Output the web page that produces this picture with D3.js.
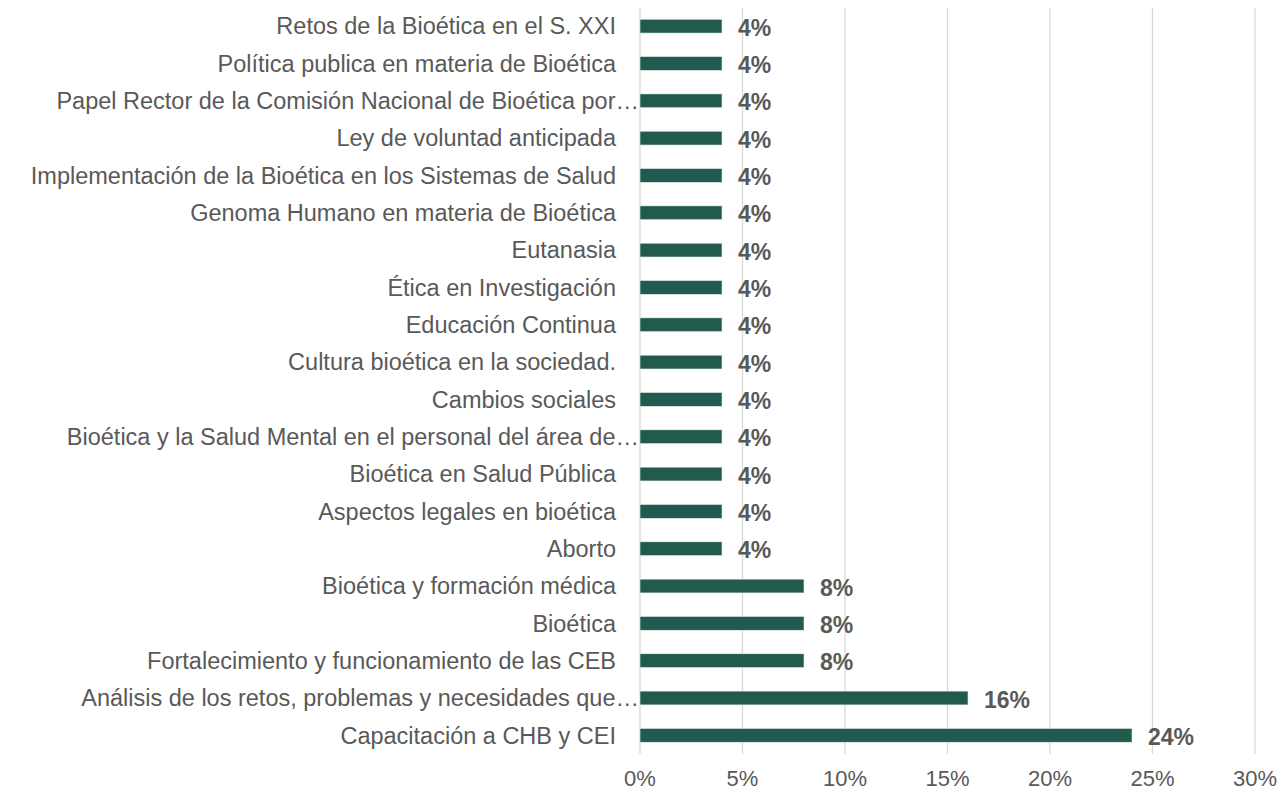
<!DOCTYPE html>
<html>
<head>
<meta charset="utf-8">
<script src="https://cdn.jsdelivr.net/npm/d3@7"></script>
<style>
  body { margin: 0; background: #fff; }
  text { font-family: "Liberation Sans", Arial, sans-serif; }
</style>
</head>
<body>
<div id="chart"></div>
<script>
// categories top to bottom, values in %
var categories = [
  "Retos de la Bioética en el S. XXI",
  "Política publica en materia de Bioética ",
  "Papel Rector de la Comisión Nacional de Bioética por…",
  "Ley de voluntad anticipada",
  "Implementación de la Bioética en los Sistemas de Salud",
  "Genoma Humano en materia de Bioética ",
  "Eutanasia",
  "Ética en Investigación",
  "Educación Continua",
  "Cultura bioética en la sociedad.",
  "Cambios sociales",
  "Bioética y la Salud Mental en el personal del área de…",
  "Bioética en Salud Pública",
  "Aspectos legales en bioética",
  "Aborto",
  "Bioética y formación médica",
  "Bioética ",
  "Fortalecimiento y funcionamiento de las CEB",
  "Análisis de los retos, problemas y necesidades que…",
  "Capacitación a CHB y CEI"
];
var values = [4, 4, 4, 4, 4, 4, 4, 4, 4, 4, 4, 4, 4, 4, 4, 8, 8, 8, 16, 24];
var xTicks = [0, 5, 10, 15, 20, 25, 30];

var width = 1287, height = 793;
var margin = {top: 7.5, right: 32, bottom: 39, left: 640};

var svg = d3.select("#chart").append("svg")
  .attr("width", width)
  .attr("height", height);

var x = d3.scaleLinear()
  .domain([0, 30])
  .range([margin.left, width - margin.right]);

var y = d3.scaleBand()
  .domain(categories)
  .range([margin.top, height - margin.bottom])
  .paddingInner(0.63)
  .paddingOuter(0.315);

//gridlines
svg.append("g")
  .selectAll("line")
  .data(xTicks)
  .enter()
  .append("line")
  .attr("x1", d => x(d))
  .attr("x2", d => x(d))
  .attr("y1", margin.top)
  .attr("y2", height - margin.bottom)
  .attr("stroke", "#d9d9d9")
  .attr("stroke-width", 1.3);

//tick labels
svg.append("g")
  .selectAll("text")
  .data(xTicks)
  .enter()
  .append("text")
  .attr("x", d => x(d))
  .attr("y", 786)
  .attr("text-anchor", "middle")
  .attr("fill", "#595959")
  .attr("font-size", "22px")
  .text(d => d + "%");

//bars
svg.append("g")
  .selectAll("rect")
  .data(values)
  .enter()
  .append("rect")
  .attr("x", x(0))
  .attr("y", (d, i) => y(categories[i]))
  .attr("width", d => x(d) - x(0))
  .attr("height", y.bandwidth())
  .attr("fill", "#225b4e")
  .attr("stroke", "#e6efec")
  .attr("stroke-width", 0.6);

//category labels
svg.append("g")
  .selectAll("text")
  .data(categories)
  .enter()
  .append("text")
  .attr("x", d => d.endsWith("…") ? x(0) - 1 : x(0) - 24)
  .attr("y", d => y(d) + y.bandwidth() / 2)
  .attr("dy", "0.35em")
  .attr("text-anchor", "end")
  .attr("fill", "#595959")
  .attr("font-size", "23.5px")
  .text(d => d.trim());

//value labels
svg.append("g")
  .selectAll("text")
  .data(values)
  .enter()
  .append("text")
  .attr("x", d => x(d) + 16)
  .attr("y", (d, i) => y(categories[i]) + y.bandwidth() / 2)
  .attr("dy", "0.42em")
  .attr("fill", "#595959")
  .attr("font-size", "23px")
  .attr("font-weight", "bold")
  .text(d => d + "%");
</script>
</body>
</html>
